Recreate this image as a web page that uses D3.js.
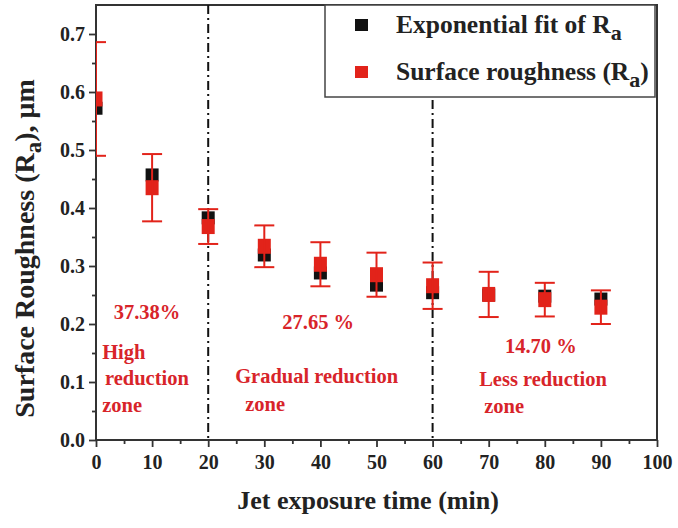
<!DOCTYPE html>
<html>
<head>
  <meta charset="utf-8">
  <script src="https://cdn.jsdelivr.net/npm/d3@7"></script>
  <style>
    body { margin: 0; background: white; }
    text { font-family: "Liberation Serif", "Times New Roman", serif; font-weight: bold; }
  </style>
</head>
<body>
  <script>
    // data
    const times = [0, 10, 20, 30, 40, 50, 60, 70, 80, 90]
    const roughness = [0.588, 0.435, 0.368, 0.334, 0.303, 0.285, 0.266, 0.251, 0.242, 0.229]
    const roughnessErr = [0.098, 0.058, 0.030, 0.036, 0.038, 0.038, 0.040, 0.039, 0.029, 0.029]
    const expFit = [0.572, 0.457, 0.383, 0.319, 0.288, 0.267, 0.254, 0.250, 0.248, 0.243]
    const xTicks = [0, 10, 20, 30, 40, 50, 60, 70, 80, 90, 100]
    const xMinor = [5, 15, 25, 35, 45, 55, 65, 75, 85, 95]
    const yTicks = [0.0, 0.1, 0.2, 0.3, 0.4, 0.5, 0.6, 0.7]
    const yMinor = [0.05, 0.15, 0.25, 0.35, 0.45, 0.55, 0.65]
    const zoneLines = [20, 60]
    const notes = [
      { t: '37.38%', x: 9.1, y: 0.221, anchor: 'middle' },
      { t: 'High', x: 1.1, y: 0.152, anchor: 'start' },
      { t: 'reduction', x: 1.6, y: 0.107, anchor: 'start' },
      { t: 'zone', x: 1.1, y: 0.060, anchor: 'start' },
      { t: '27.65 %', x: 39.6, y: 0.203, anchor: 'middle' },
      { t: 'Gradual reduction', x: 24.8, y: 0.110, anchor: 'start' },
      { t: 'zone', x: 26.6, y: 0.062, anchor: 'start' },
      { t: '14.70 %', x: 79.3, y: 0.162, anchor: 'middle' },
      { t: 'Less reduction', x: 68.3, y: 0.105, anchor: 'start' },
      { t: 'zone', x: 69.2, y: 0.058, anchor: 'start' }
    ]

    const red = '#e2231a'
    const textRed = '#d8242a'
    const W = 678, H = 528
    const pL = 96, pR = 657, pT = 5, pB = 440

    const x = d3.scaleLinear([0, 100], [pL, pR])
    const y = d3.scaleLinear([0, 0.75], [pB, pT])

    const svg = d3.select('body').append('svg').attr('width', W).attr('height', H)

    svg.append('clipPath').attr('id', 'plot')
      .append('rect').attr('x', pL).attr('y', pT).attr('width', pR - pL).attr('height', pB - pT)

    // axes
    const xAxis = svg.append('g').attr('transform', `translate(0,${pB})`)
      .call(d3.axisBottom(x).tickValues(xTicks).tickSize(7).tickPadding(8).tickFormat(d3.format('d')))
    svg.append('g').attr('transform', `translate(0,${pB})`)
      .call(d3.axisBottom(x).tickValues(xMinor).tickSize(4).tickFormat(''))
    const yAxis = svg.append('g').attr('transform', `translate(${pL},0)`)
      .call(d3.axisLeft(y).tickValues(yTicks).tickSize(7).tickPadding(4).tickFormat(d3.format('.1f')))
    svg.append('g').attr('transform', `translate(${pL},0)`)
      .call(d3.axisLeft(y).tickValues(yMinor).tickSize(4).tickFormat(''))

    svg.selectAll('.domain').remove()
    svg.selectAll('.tick line').attr('stroke', '#333').attr('stroke-width', 1.8)
    xAxis.selectAll('text').attr('font-size', 20).attr('fill', '#222')
    yAxis.selectAll('text').attr('font-size', 20).attr('fill', '#222')

    // frame
    svg.append('rect').attr('x', pL).attr('y', pT).attr('width', pR - pL).attr('height', pB - pT)
      .attr('fill', 'none').attr('stroke', '#333').attr('stroke-width', 2)

    const plot = svg.append('g').attr('clip-path', 'url(#plot)')

    // zone separators
    plot.selectAll('line.zone').data(zoneLines).join('line')
      .attr('class', 'zone')
      .attr('x1', d => x(d)).attr('x2', d => x(d))
      .attr('y1', pT).attr('y2', pB)
      .attr('stroke', '#111').attr('stroke-width', 2)
      .attr('stroke-dasharray', '9,4,2,4')

    const fitPts = times.map((t, i) => ({ t, v: expFit[i] }))
    const raPts = times.map((t, i) => ({ t, v: roughness[i], e: roughnessErr[i] }))

    // exponential fit (drawn under the measured points)
    plot.selectAll('rect.fit').data(fitPts).join('rect')
      .attr('class', 'fit')
      .attr('x', d => x(d.t) - 6.5).attr('y', d => y(d.v) - 6.5)
      .attr('width', 13).attr('height', 13)
      .attr('fill', '#111')

    // measured roughness
    plot.selectAll('rect.ra').data(raPts).join('rect')
      .attr('class', 'ra')
      .attr('x', d => x(d.t) - 6.5).attr('y', d => y(d.v) - 7.5)
      .attr('width', 13).attr('height', 15)
      .attr('fill', red)

    const err = plot.selectAll('g.err').data(raPts).join('g').attr('class', 'err')
      .attr('stroke', red).attr('stroke-width', 2)
    err.append('line')
      .attr('x1', d => x(d.t)).attr('x2', d => x(d.t))
      .attr('y1', d => y(d.v + d.e)).attr('y2', d => y(d.v - d.e))
    err.append('line')
      .attr('x1', d => x(d.t) - 10).attr('x2', d => x(d.t) + 10)
      .attr('y1', d => y(d.v + d.e)).attr('y2', d => y(d.v + d.e))
    err.append('line')
      .attr('x1', d => x(d.t) - 10).attr('x2', d => x(d.t) + 10)
      .attr('y1', d => y(d.v - d.e)).attr('y2', d => y(d.v - d.e))

    // zone notes
    svg.selectAll('text.note').data(notes).join('text')
      .attr('class', 'note')
      .attr('x', d => x(d.x)).attr('y', d => y(d.y))
      .attr('text-anchor', d => d.anchor)
      .attr('dominant-baseline', 'central')
      .attr('font-size', 20.5).attr('fill', textRed)
      .text(d => d.t)

    // legend
    const lg = svg.append('g')
    lg.append('rect').attr('x', 325).attr('y', pT).attr('width', pR - 2 - 325).attr('height', 92)
      .attr('fill', 'white').attr('stroke', '#444').attr('stroke-width', 1.5)
    lg.append('rect').attr('x', 355).attr('y', 19).attr('width', 13).attr('height', 12).attr('fill', '#111')
    lg.append('rect').attr('x', 355).attr('y', 66).attr('width', 13).attr('height', 12).attr('fill', red)
    const l1 = lg.append('text').attr('x', 396).attr('y', 33).attr('font-size', 25.5).attr('fill', '#222')
    l1.append('tspan').text('Exponential fit of R')
    l1.append('tspan').attr('dy', 7).attr('font-size', 22).text('a')
    const l2 = lg.append('text').attr('x', 396).attr('y', 80).attr('font-size', 25.5).attr('fill', '#222')
    l2.append('tspan').text('Surface roughness (R')
    l2.append('tspan').attr('dy', 7).attr('font-size', 22).text('a')
    l2.append('tspan').attr('dy', -7).text(')')

    // axis titles
    svg.append('text').attr('x', 368).attr('y', 509)
      .attr('text-anchor', 'middle').attr('font-size', 26).attr('fill', '#222')
      .text('Jet exposure time (min)')
    const yt = svg.append('text').attr('transform', `translate(34,${(pT + pB) / 2 + 26}) rotate(-90)`)
      .attr('text-anchor', 'middle').attr('font-size', 28).attr('fill', '#222')
    yt.append('tspan').text('Surface Roughness (R')
    yt.append('tspan').attr('dy', 7).attr('font-size', 23).text('a')
    yt.append('tspan').attr('dy', -7).text('), μm')
  </script>
</body>
</html>
